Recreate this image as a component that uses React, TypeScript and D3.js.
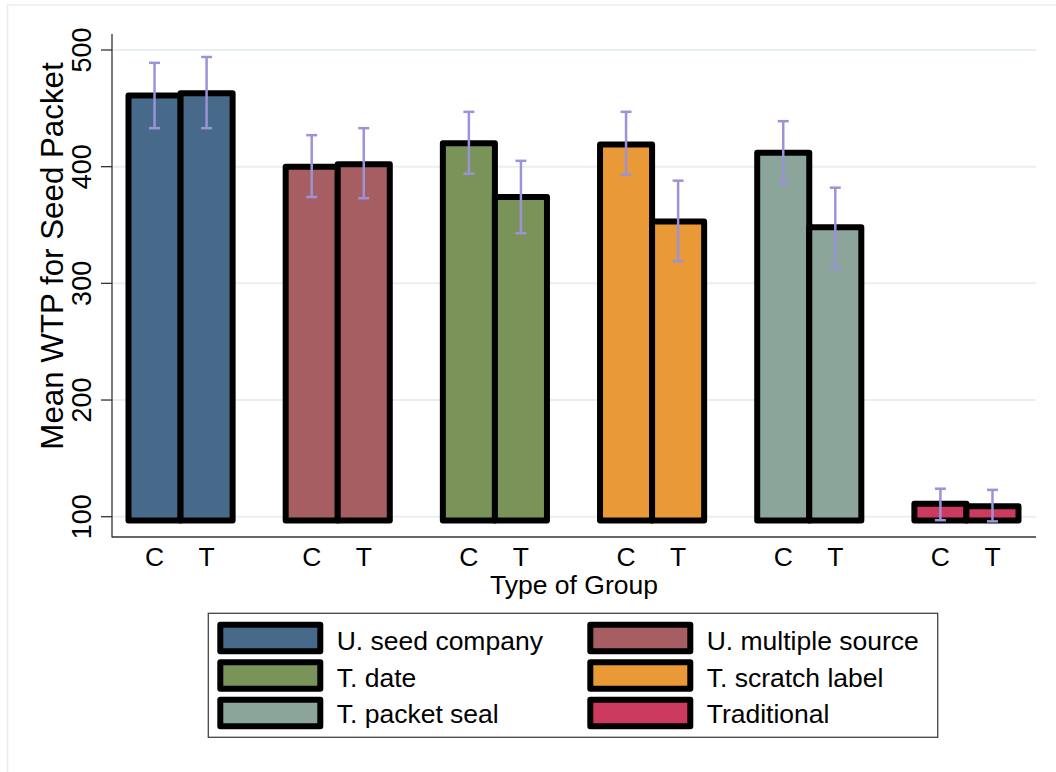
import React from "react";
import * as d3 from "d3";

// Treatment groups (legend order) and their bar fills
const groups = [
  "U. seed company",
  "U. multiple source",
  "T. date",
  "T. scratch label",
  "T. packet seal",
  "Traditional",
];
const groupColors = ["#486a8a", "#a65e62", "#7a9358", "#e99a36", "#8ca59a", "#cd3a5f"];

// Control (C) and treatment (T) arms within each group
const arms = ["C", "T"];

// Mean WTP by group, per arm
const meanC = [461, 400, 420, 419, 412, 111];
const meanT = [463, 402, 374, 353, 348, 109];

// 95% confidence bounds per arm
const lowC = [433, 374, 394, 393, 386, 97];
const highC = [489, 427, 447, 447, 439, 124];
const lowT = [433, 373, 343, 319, 313, 96];
const highT = [494, 433, 405, 388, 382, 123];

// Axis ticks and bar base
const yTicks = [100, 200, 300, 400, 500];
const barBase = 96.8;

const W = 1056;
const H = 772;
const plot = { left: 112, right: 1036, top: 34, bottom: 537 };
const FONT = "'Liberation Sans', Arial, Helvetica, sans-serif";
const CI_COLOR = "#9a93d8";
const GRID = "#e8eff1";

export default function App() {
  const y = d3.scaleLinear().domain([100, 500]).range([516.7, 50]);
  const xGroup = d3
    .scaleBand<string>()
    .domain(groups)
    .range([128.5, 1018.5])
    .paddingInner(0.3376)
    .paddingOuter(0);
  const xArm = d3.scaleBand<string>().domain(arms).range([0, xGroup.bandwidth()]).padding(0);

  const rows = groups.flatMap((g, i) => [
    { g, i, arm: "C", mean: meanC[i], lo: lowC[i], hi: highC[i] },
    { g, i, arm: "T", mean: meanT[i], lo: lowT[i], hi: highT[i] },
  ]);

  const capHalf = 5.5;

  return (
    <svg
      width={W}
      height={H}
      style={{ position: "absolute", left: 0, top: 0, background: "#fff" }}
      fontFamily={FONT}
    >
      {/* faint outline of the graph region */}
      <rect x={7.5} y={5} width={W + 10} height={H - 4} fill="none" stroke="#e6eef0" strokeWidth={1.5} />

      {/* horizontal gridlines */}
      {yTicks.map((t) => (
        <line key={"g" + t} x1={plot.left} x2={plot.right} y1={y(t)} y2={y(t)} stroke={GRID} strokeWidth={2} />
      ))}

      {/* bars */}
      {rows.map((r) => {
        const x0 = (xGroup(r.g) ?? 0) + (xArm(r.arm) ?? 0);
        const yTop = y(r.mean);
        const yBot = y(barBase);
        return (
          <rect
            key={"b" + r.g + r.arm}
            x={x0}
            y={yTop}
            width={xArm.bandwidth()}
            height={yBot - yTop}
            fill={groupColors[r.i]}
            stroke="#000"
            strokeWidth={6}
            strokeLinejoin="round"
          />
        );
      })}

      {/* confidence intervals */}
      {rows.map((r) => {
        const cx = (xGroup(r.g) ?? 0) + (xArm(r.arm) ?? 0) + xArm.bandwidth() / 2;
        return (
          <g key={"e" + r.g + r.arm} stroke={CI_COLOR} strokeWidth={2.5}>
            <line x1={cx} x2={cx} y1={y(r.hi)} y2={y(r.lo)} />
            <line x1={cx - capHalf} x2={cx + capHalf} y1={y(r.hi)} y2={y(r.hi)} />
            <line x1={cx - capHalf} x2={cx + capHalf} y1={y(r.lo)} y2={y(r.lo)} />
          </g>
        );
      })}

      {/* axes */}
      <line x1={plot.left} x2={plot.left} y1={plot.top} y2={plot.bottom + 0.5} stroke="#333" strokeWidth={1.3} />
      <line x1={plot.left} x2={plot.right} y1={plot.bottom} y2={plot.bottom} stroke="#333" strokeWidth={1.3} />
      {yTicks.map((t) => (
        <g key={"t" + t}>
          <line x1={101} x2={plot.left} y1={y(t)} y2={y(t)} stroke="#333" strokeWidth={1.3} />
          <text
            transform={`translate(91,${y(t)}) rotate(-90)`}
            textAnchor="middle"
            fontSize={27}
            fill="#000"
          >
            {t}
          </text>
        </g>
      ))}
      <text transform="translate(63,256) rotate(-90)" textAnchor="middle" fontSize={31.3} fill="#000">
        Mean WTP for Seed Packet
      </text>

      {/* arm labels under each bar */}
      {rows.map((r) => (
        <text
          key={"l" + r.g + r.arm}
          x={(xGroup(r.g) ?? 0) + (xArm(r.arm) ?? 0) + xArm.bandwidth() / 2}
          y={565.5}
          textAnchor="middle"
          fontSize={26.5}
          fill="#000"
        >
          {r.arm}
        </text>
      ))}
      <text x={(plot.left + plot.right) / 2} y={594} textAnchor="middle" fontSize={26.5} fill="#000">
        Type of Group
      </text>

      {/* legend */}
      <rect x={208.3} y={613.3} width={729.4} height={124} fill="#fff" stroke="#444" strokeWidth={1.3} />
      {groups.map((g, i) => {
        const col = i % 2;
        const row = Math.floor(i / 2);
        const kx = 220.3 + col * 370;
        const ky = 624.7 + row * 37.5;
        return (
          <g key={"k" + g}>
            <rect
              x={kx}
              y={ky}
              width={100}
              height={26.6}
              fill={groupColors[i]}
              stroke="#000"
              strokeWidth={6}
              strokeLinejoin="round"
            />
            <text x={kx + 116.4} y={650 + row * 36.7} fontSize={26.5} fill="#000">
              {g}
            </text>
          </g>
        );
      })}
    </svg>
  );
}
